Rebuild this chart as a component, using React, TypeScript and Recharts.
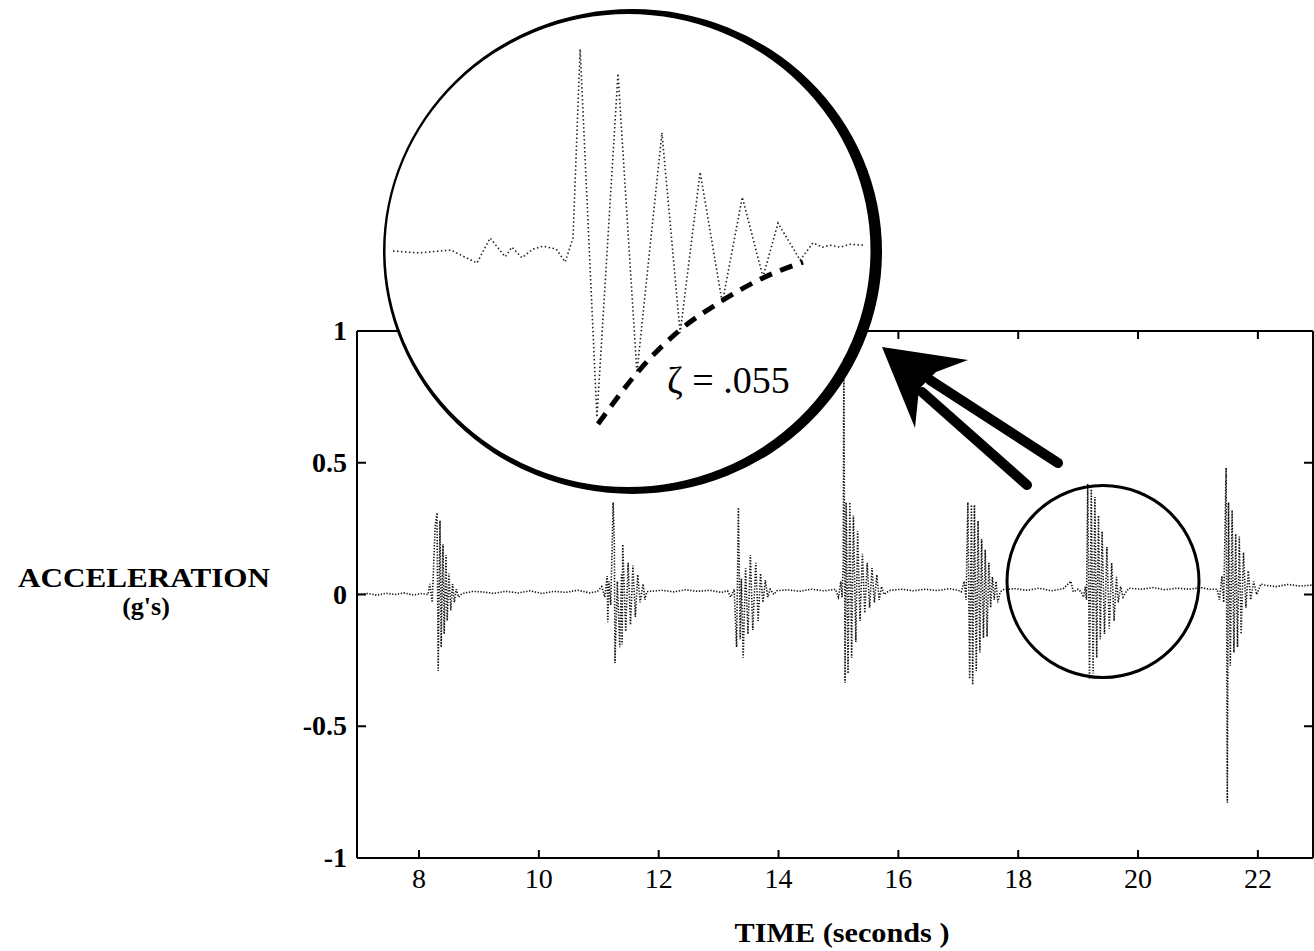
import React from 'react';
import { LineChart, Line, XAxis, YAxis } from 'recharts';

type Pt = [number, number];

const xTicks = [8, 10, 12, 14, 16, 18, 20, 22];
const yTicks = [-1, -0.5, 0, 0.5, 1];

// [time (s), acceleration (g)], quiet stretches and the seven hits
const quiet07: Pt[] = [[6.98, 0.0], [7.15, 0.004], [7.3, -0.003], [7.45, 0.005], [7.6, 0.0], [7.75, 0.006], [7.9, -0.002], [8.05, 0.004], [8.15, 0.0]];
const hit08: Pt[] = [[8.18, 0.04], [8.22, -0.03], [8.27, 0.26], [8.3, 0.31], [8.32, -0.29], [8.35, 0.28], [8.37, -0.2], [8.4, 0.19], [8.42, -0.15], [8.45, 0.15], [8.47, -0.1], [8.5, 0.08], [8.53, -0.06], [8.56, 0.04], [8.59, -0.03], [8.62, 0.02], [8.66, -0.01], [8.7, 0.0]];
const quiet09: Pt[] = [[8.75, 0.005], [8.9, 0.012], [9.05, 0.01], [9.25, 0.004], [9.45, 0.012], [9.65, 0.006], [9.85, 0.014], [10.05, 0.004], [10.25, 0.012], [10.45, 0.008], [10.65, 0.016], [10.85, 0.006], [10.98, 0.012]];
const hit11: Pt[] = [[11.05, 0.03], [11.1, -0.01], [11.14, 0.07], [11.15, -0.105], [11.17, 0.05], [11.2, -0.04], [11.24, 0.35], [11.26, 0.19], [11.27, -0.26], [11.31, 0.05], [11.35, -0.2], [11.38, 0.08], [11.39, -0.19], [11.4, 0.19], [11.45, -0.14], [11.49, 0.12], [11.53, -0.115], [11.57, 0.11], [11.61, -0.085], [11.65, 0.075], [11.69, -0.03], [11.74, 0.04], [11.77, -0.02], [11.8, 0.01]];
const quiet12: Pt[] = [[11.85, 0.012], [12.05, 0.016], [12.25, 0.01], [12.45, 0.018], [12.65, 0.012], [12.85, 0.016], [13.05, 0.008], [13.15, 0.014]];
const hit13: Pt[] = [[13.2, -0.01], [13.26, 0.02], [13.3, -0.2], [13.33, 0.33], [13.36, -0.17], [13.38, 0.06], [13.41, -0.24], [13.45, 0.1], [13.49, -0.15], [13.53, 0.15], [13.57, -0.135], [13.62, 0.12], [13.66, -0.1], [13.7, 0.08], [13.74, -0.03], [13.78, 0.055], [13.82, -0.01], [13.86, 0.02], [13.92, 0.0]];
const quiet14: Pt[] = [[13.97, 0.014], [14.15, 0.018], [14.35, 0.012], [14.55, 0.02], [14.75, 0.014], [14.9, 0.018]];
const hit15: Pt[] = [[14.95, 0.02], [15.0, -0.01], [15.04, 0.05], [15.06, -0.01], [15.08, 0.12], [15.09, 0.9], [15.11, -0.335], [15.13, 0.35], [15.16, -0.3], [15.19, 0.35], [15.22, -0.24], [15.25, 0.3], [15.29, -0.18], [15.32, 0.24], [15.36, -0.1], [15.4, 0.155], [15.44, -0.07], [15.48, 0.12], [15.52, -0.05], [15.56, 0.1], [15.6, -0.03], [15.64, 0.075], [15.68, -0.02], [15.72, 0.03], [15.76, 0.0], [15.82, 0.01]];
const quiet16: Pt[] = [[15.87, 0.016], [16.05, 0.02], [16.25, 0.014], [16.45, 0.02], [16.65, 0.015], [16.85, 0.022], [17.0, 0.016]];
const hit17: Pt[] = [[17.05, 0.01], [17.1, 0.05], [17.13, -0.02], [17.16, 0.35], [17.19, -0.32], [17.22, 0.34], [17.24, -0.343], [17.27, 0.34], [17.3, -0.29], [17.33, 0.28], [17.36, -0.22], [17.39, 0.21], [17.42, -0.165], [17.45, 0.17], [17.48, -0.16], [17.51, 0.12], [17.54, -0.05], [17.57, 0.067], [17.6, -0.02], [17.63, 0.05], [17.66, -0.03], [17.7, 0.01]];
const quiet18: Pt[] = [[17.75, 0.018], [17.95, 0.022], [18.15, 0.016], [18.35, 0.024], [18.55, 0.014], [18.75, 0.022], [18.88, 0.05], [18.92, 0.01], [19.0, 0.02]];
const hit19: Pt[] = [[19.05, 0.01], [19.09, -0.01], [19.12, 0.03], [19.14, -0.02], [19.16, 0.42], [19.19, -0.32], [19.22, 0.4], [19.25, -0.3], [19.28, 0.37], [19.31, -0.24], [19.34, 0.3], [19.37, -0.17], [19.4, 0.24], [19.44, -0.15], [19.48, 0.18], [19.52, -0.13], [19.56, 0.12], [19.6, -0.1], [19.64, 0.067], [19.67, -0.03], [19.71, 0.03], [19.75, -0.01], [19.8, 0.01]];
const quiet20: Pt[] = [[19.85, 0.024], [20.05, 0.02], [20.25, 0.026], [20.45, 0.018], [20.65, 0.024], [20.85, 0.02], [21.05, 0.026], [21.2, 0.02]];
const hit21: Pt[] = [[21.32, 0.02], [21.36, -0.02], [21.4, 0.07], [21.43, -0.03], [21.47, 0.48], [21.49, -0.79], [21.51, 0.35], [21.54, -0.27], [21.57, 0.32], [21.6, -0.22], [21.63, 0.23], [21.66, -0.2], [21.69, 0.22], [21.72, -0.15], [21.76, 0.16], [21.8, -0.05], [21.84, 0.09], [21.88, -0.02], [21.93, 0.05], [21.98, 0.0], [22.05, 0.04]];
const quiet22: Pt[] = [[22.1, 0.036], [22.3, 0.03], [22.5, 0.038], [22.7, 0.032], [22.92, 0.036]];

// magnified view of the hit near 19 s, and the decay envelope drawn under it
const zoomTrace: Pt[] = [[18.628, 0.0], [18.7, -0.004], [18.79, 0.002], [18.863, -0.025], [18.9, 0.027], [18.942, -0.012], [18.961, 0.008], [18.989, -0.014], [19.02, 0.004], [19.048, 0.01], [19.085, 0.004], [19.11, -0.023], [19.132, 0.027], [19.152, 0.42], [19.199, -0.346], [19.258, 0.369], [19.311, -0.253], [19.381, 0.246], [19.432, -0.17], [19.488, 0.164], [19.55, -0.108], [19.606, 0.112], [19.664, -0.054], [19.706, 0.058], [19.768, -0.019], [19.804, 0.017], [19.83, 0.008], [19.852, 0.012], [19.88, 0.008], [19.908, 0.014], [19.95, 0.012]];
const zoomEnvelope: Pt[] = [[19.202, -0.36], [19.32, -0.246], [19.432, -0.164], [19.544, -0.106], [19.664, -0.056], [19.776, -0.023]];
const dampingLabel = 'ζ = .055';

const toRows = (pts: Pt[]) => pts.map(([t, g]) => ({ t, g }));
const traceRows = toRows([quiet07, hit08, quiet09, hit11, quiet12, hit13, quiet14, hit15, quiet16, hit17, quiet18, hit19, quiet20, hit21, quiet22].flat());

const FONT = 'Liberation Serif';

const BottomTick = (p: any) => (
    <g>
        <line x1={p.x} y1={p.y} x2={p.x} y2={p.y - 8} stroke="#000" strokeWidth={2} />
        <text x={p.x} y={p.y + 30} textAnchor="middle" fontFamily={FONT} fontWeight="normal" fontSize={28} fill="#000">{p.payload.value}</text>
    </g>
);
const TopTick = (p: any) => <line x1={p.x} y1={p.y} x2={p.x} y2={p.y + 8} stroke="#000" strokeWidth={2} />;
const LeftTick = (p: any) => (
    <g>
        <line x1={p.x} y1={p.y} x2={p.x + 9} y2={p.y} stroke="#000" strokeWidth={2} />
        <text x={p.x - 10} y={p.y + 9} textAnchor="end" fontFamily={FONT} fontWeight="bold" fontSize={28} fill="#000">{String(p.payload.value)}</text>
    </g>
);
const RightTick = (p: any) => <line x1={p.x} y1={p.y} x2={p.x - 9} y2={p.y} stroke="#000" strokeWidth={2} />;

const ellipse = (cx: number, cy: number, rx: number, ry: number) =>
    `M${cx - rx},${cy} a${rx},${ry} 0 1,0 ${2 * rx},0 a${rx},${ry} 0 1,0 ${-2 * rx},0 Z`;

const layer: React.CSSProperties = { position: 'absolute', left: 0, top: 0 };

export default function App() {
    const axisLine = { stroke: '#000', strokeWidth: 2 };
    return (
        <div style={{ position: 'absolute', left: 0, top: 0, width: 1314, height: 951, background: '#fff', overflow: 'hidden' }}>
            <div style={layer}>
                <LineChart width={1314} height={951} data={traceRows} margin={{ top: 330, right: 0, left: 0, bottom: 33 }}>
                    <XAxis xAxisId="bottom" dataKey="t" type="number" domain={[6.965, 22.92]} allowDataOverflow ticks={xTicks}
                        height={60} tickSize={0} tickMargin={0} axisLine={axisLine} tick={BottomTick} interval={0} />
                    <XAxis xAxisId="top" orientation="top" dataKey="t" type="number" domain={[6.965, 22.92]} allowDataOverflow ticks={xTicks}
                        height={1} tickSize={0} tickMargin={0} axisLine={axisLine} tick={TopTick} interval={0} />
                    <YAxis yAxisId="left" type="number" domain={[-1, 1]} allowDataOverflow ticks={yTicks}
                        width={357} tickSize={0} tickMargin={0} axisLine={axisLine} tick={LeftTick} interval={0} />
                    <YAxis yAxisId="right" orientation="right" type="number" domain={[-1, 1]} allowDataOverflow ticks={yTicks}
                        width={1} tickSize={0} tickMargin={0} axisLine={axisLine} tick={RightTick} interval={0} />
                    <Line xAxisId="bottom" yAxisId="left" type="linear" dataKey="g" stroke="#111" strokeWidth={1.6}
                        strokeDasharray="1.3 1.6" dot={false} isAnimationActive={false} />
                </LineChart>
            </div>

            <svg width={1314} height={951} style={layer}>
                <path d={ellipse(628, 250.5, 242.5, 236.5)} fill="#fff" />
                <path d={ellipse(632.5, 251.5, 249.5, 242.5) + ellipse(628, 250.5, 242.5, 236.5)} fill="#000" fillRule="evenodd" />
            </svg>

            <div style={{ position: 'absolute', left: 383, top: 1 }}>
                <LineChart width={500} height={500} margin={{ top: 0, right: 0, left: 0, bottom: 0 }}>
                    <XAxis dataKey="t" type="number" domain={[18.6, 20.0]} allowDataOverflow hide />
                    <YAxis type="number" domain={[-0.52, 0.52]} allowDataOverflow hide />
                    <Line data={toRows(zoomTrace)} dataKey="g" type="linear" stroke="#222" strokeWidth={1.6}
                        strokeDasharray="1.5 2.5" dot={false} isAnimationActive={false} />
                    <Line data={toRows(zoomEnvelope)} dataKey="g" type="monotone" stroke="#000" strokeWidth={5}
                        strokeDasharray="13 9" dot={false} isAnimationActive={false} />
                </LineChart>
            </div>

            <svg width={1314} height={951} style={layer}>
                <text x={667} y={393} fontFamily={FONT} fontWeight="normal" fontSize={38} fill="#000">{dampingLabel}</text>
                <circle cx={1103} cy={581.5} r={96} fill="none" stroke="#000" strokeWidth={3} />
                <polygon points="882,347 968,360 936,372 919,389 915,428" fill="#000" />
                <line x1={930} y1={380} x2={1058} y2={463} stroke="#000" strokeWidth={10} strokeLinecap="round" />
                <line x1={922} y1={392} x2={1027} y2={485} stroke="#000" strokeWidth={10} strokeLinecap="round" />
                <text x={144} y={587} textAnchor="middle" fontFamily={FONT} fontWeight="bold" fontSize={27}
                    textLength={252} lengthAdjust="spacingAndGlyphs" fill="#000">ACCELERATION</text>
                <text x={146} y={615} textAnchor="middle" fontFamily={FONT} fontWeight="bold" fontSize={26} fill="#000">(g's)</text>
                <text x={842} y={942} textAnchor="middle" fontFamily={FONT} fontWeight="bold" fontSize={28}
                    textLength={215} lengthAdjust="spacingAndGlyphs" fill="#000">TIME (seconds )</text>
            </svg>
        </div>
    );
}
